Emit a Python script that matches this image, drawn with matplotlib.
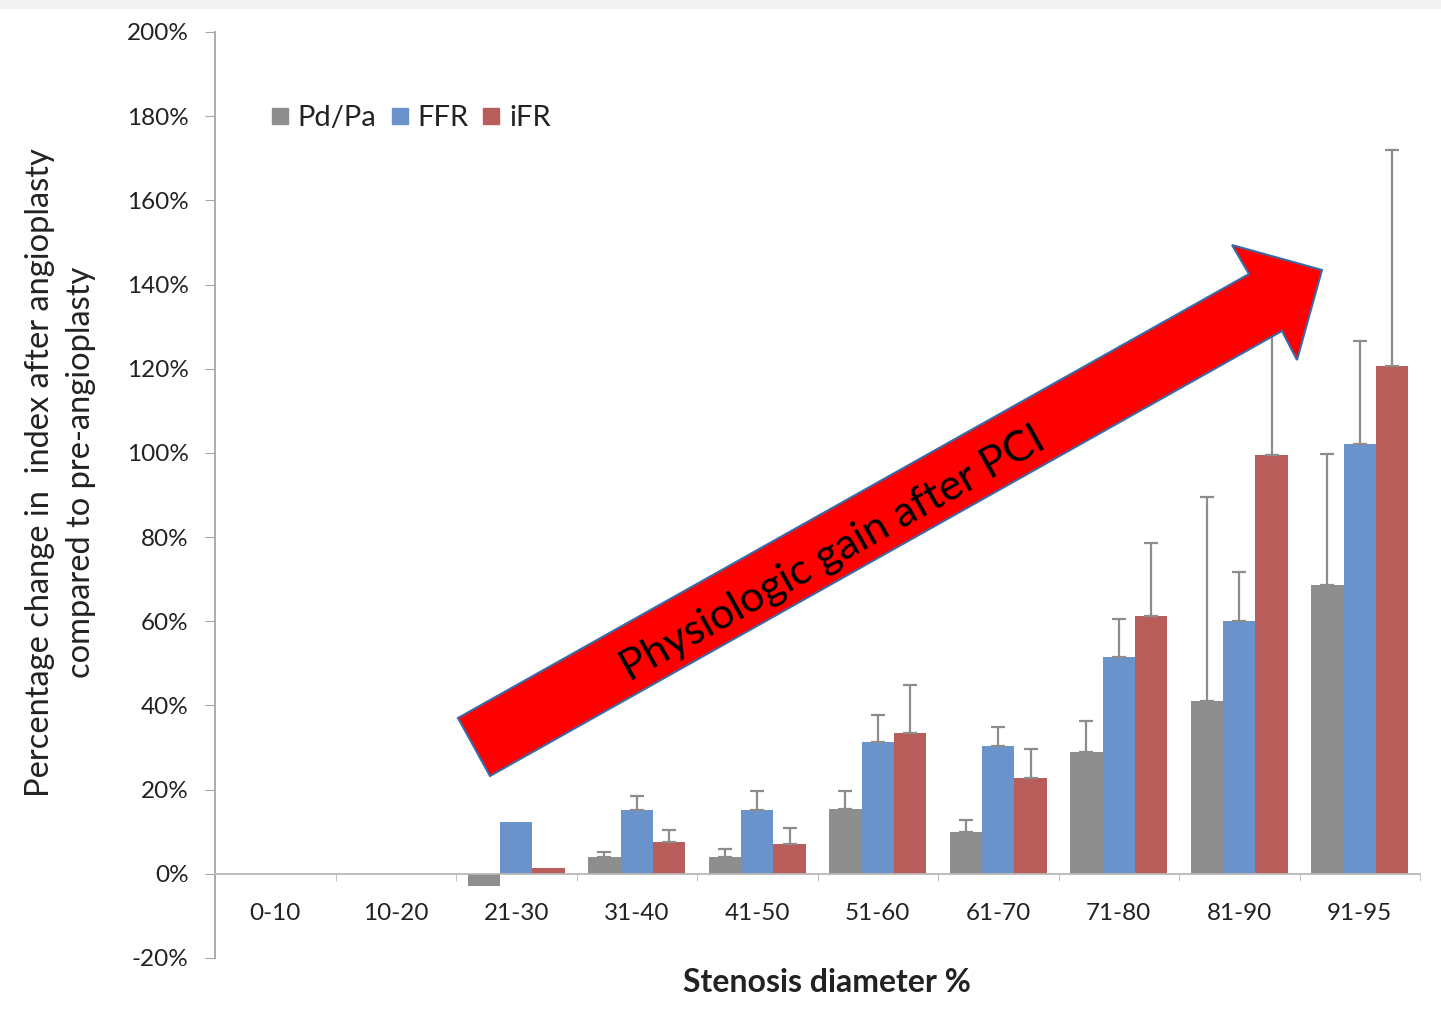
import numpy as np
import matplotlib
matplotlib.use("Agg")
import matplotlib.pyplot as plt
from matplotlib.patches import Polygon, Rectangle
from matplotlib.lines import Line2D
from matplotlib.ticker import FuncFormatter

plt.rcParams['font.family'] = ['Lato', 'DejaVu Sans']

# data (percent)
categories = ["0-10", "10-20", "21-30", "31-40", "41-50", "51-60", "61-70", "71-80", "81-90", "91-95"]
pdpa = [np.nan, np.nan, -3.0, 4.0, 4.0, 15.5, 10.0, 29.0, 41.0, 68.5]
pdpa_err = [0, 0, 0, 1.2, 1.9, 4.2, 2.8, 7.3, 48.6, 31.3]
ffr = [np.nan, np.nan, 12.2, 15.2, 15.2, 31.4, 30.4, 51.5, 60.1, 102.0]
ffr_err = [0, 0, 0, 3.3, 4.5, 6.4, 4.5, 9.1, 11.5, 24.5]
ifr = [np.nan, np.nan, 1.3, 7.6, 7.1, 33.5, 22.8, 61.3, 99.5, 120.7]
ifr_err = [0, 0, 0, 2.8, 3.8, 11.4, 6.9, 17.2, 36.0, 51.3]

series_names = ["Pd/Pa", "FFR", "iFR"]
colors = ["#8e8e8e", "#6b93cb", "#b85d59"]
err_color = "#8c8c8c"

fig = plt.figure(figsize=(14.41, 10.14), dpi=100)
fig.patch.set_facecolor("white")
# faint grey strip at the top of the slide
fig.add_artist(Rectangle((0, 1 - 9 / 1014), 1, 9 / 1014, transform=fig.transFigure,
                         facecolor="#f2f2f2", edgecolor="none", zorder=0))

ax = fig.add_axes([215 / 1441, 56 / 1014, 1205 / 1441, 926 / 1014])

x = np.arange(len(categories))
w = 0.268
for i, (vals, errs) in enumerate([(pdpa, pdpa_err), (ffr, ffr_err), (ifr, ifr_err)]):
    vals = np.array(vals, dtype=float)
    errs = np.array(errs, dtype=float)
    pos = x + (i - 1) * w
    ax.bar(pos, vals, width=w, color=colors[i], zorder=2)
    mask = errs > 0
    ax.errorbar(pos[mask], vals[mask], yerr=[np.zeros(mask.sum()), errs[mask]],
                fmt="none", ecolor=err_color, elinewidth=1.6, capsize=5, capthick=1.6, zorder=3)

ax.set_xlim(-0.5, len(categories) - 0.5)
ax.set_ylim(-20, 200)
ax.set_yticks(np.arange(-20, 201, 20))
ax.yaxis.set_major_formatter(FuncFormatter(lambda v, p: "%d%%" % v))

for s in ["top", "right"]:
    ax.spines[s].set_visible(False)
ax.spines["bottom"].set_position(("data", 0))
ax.spines["bottom"].set_color("#b8b8b8")
ax.spines["left"].set_color("#a6a6a6")
ax.spines["bottom"].set_linewidth(1.3)
ax.spines["left"].set_linewidth(1.3)

ax.set_xticks(x)
ax.set_xticklabels(categories)
ax.set_xticks(np.arange(-0.5, len(categories), 1), minor=True)
ax.tick_params(axis="x", which="major", length=0, pad=21, labelsize=17.5, labelcolor="#222222")
ax.tick_params(axis="x", which="minor", length=5, color="#b8b8b8", direction="out")
ax.tick_params(axis="y", length=7, color="#a6a6a6", pad=12, labelsize=17.5, labelcolor="#222222")

ax.set_ylabel("Percentage change in  index after angioplasty\ncompared to pre-angioplasty",
              fontsize=23.5, color="#222222", linespacing=1.45)
ax.yaxis.set_label_coords(-0.099, 0.524)
ax.set_xlabel("Stenosis diameter %", fontsize=23, fontweight="bold", color="#222222")
ax.xaxis.set_label_coords(0.508, -0.011)

handles = [Line2D([], [], marker="s", linestyle="none", markersize=11, color=c) for c in colors]
ax.legend(handles, series_names, loc="center left", bbox_to_anchor=(0.02, 0.907), ncol=3,
          frameon=False, fontsize=21, handletextpad=0.1, columnspacing=0.3, handlelength=1.0,
          labelcolor="#222222")

# red annotation arrow (figure pixel positions)
arrow_px = [(458, 718), (1249, 274), (1232, 245), (1322, 270), (1297, 360), (1282, 331), (490, 776)]
arrow_fig = [(px / 1441, 1 - py / 1014) for px, py in arrow_px]
fig.add_artist(Polygon(arrow_fig, closed=True, transform=fig.transFigure, facecolor="#ff0000",
                       edgecolor="#3b6aa8", linewidth=1.5, zorder=5))
fig.text(833 / 1441, 1 - 554 / 1014, "Physiologic gain after PCI", rotation=29.3,
         rotation_mode="anchor", ha="center", va="center", fontsize=31, color="black", zorder=6)

fig.savefig("out.png", dpi=100)
